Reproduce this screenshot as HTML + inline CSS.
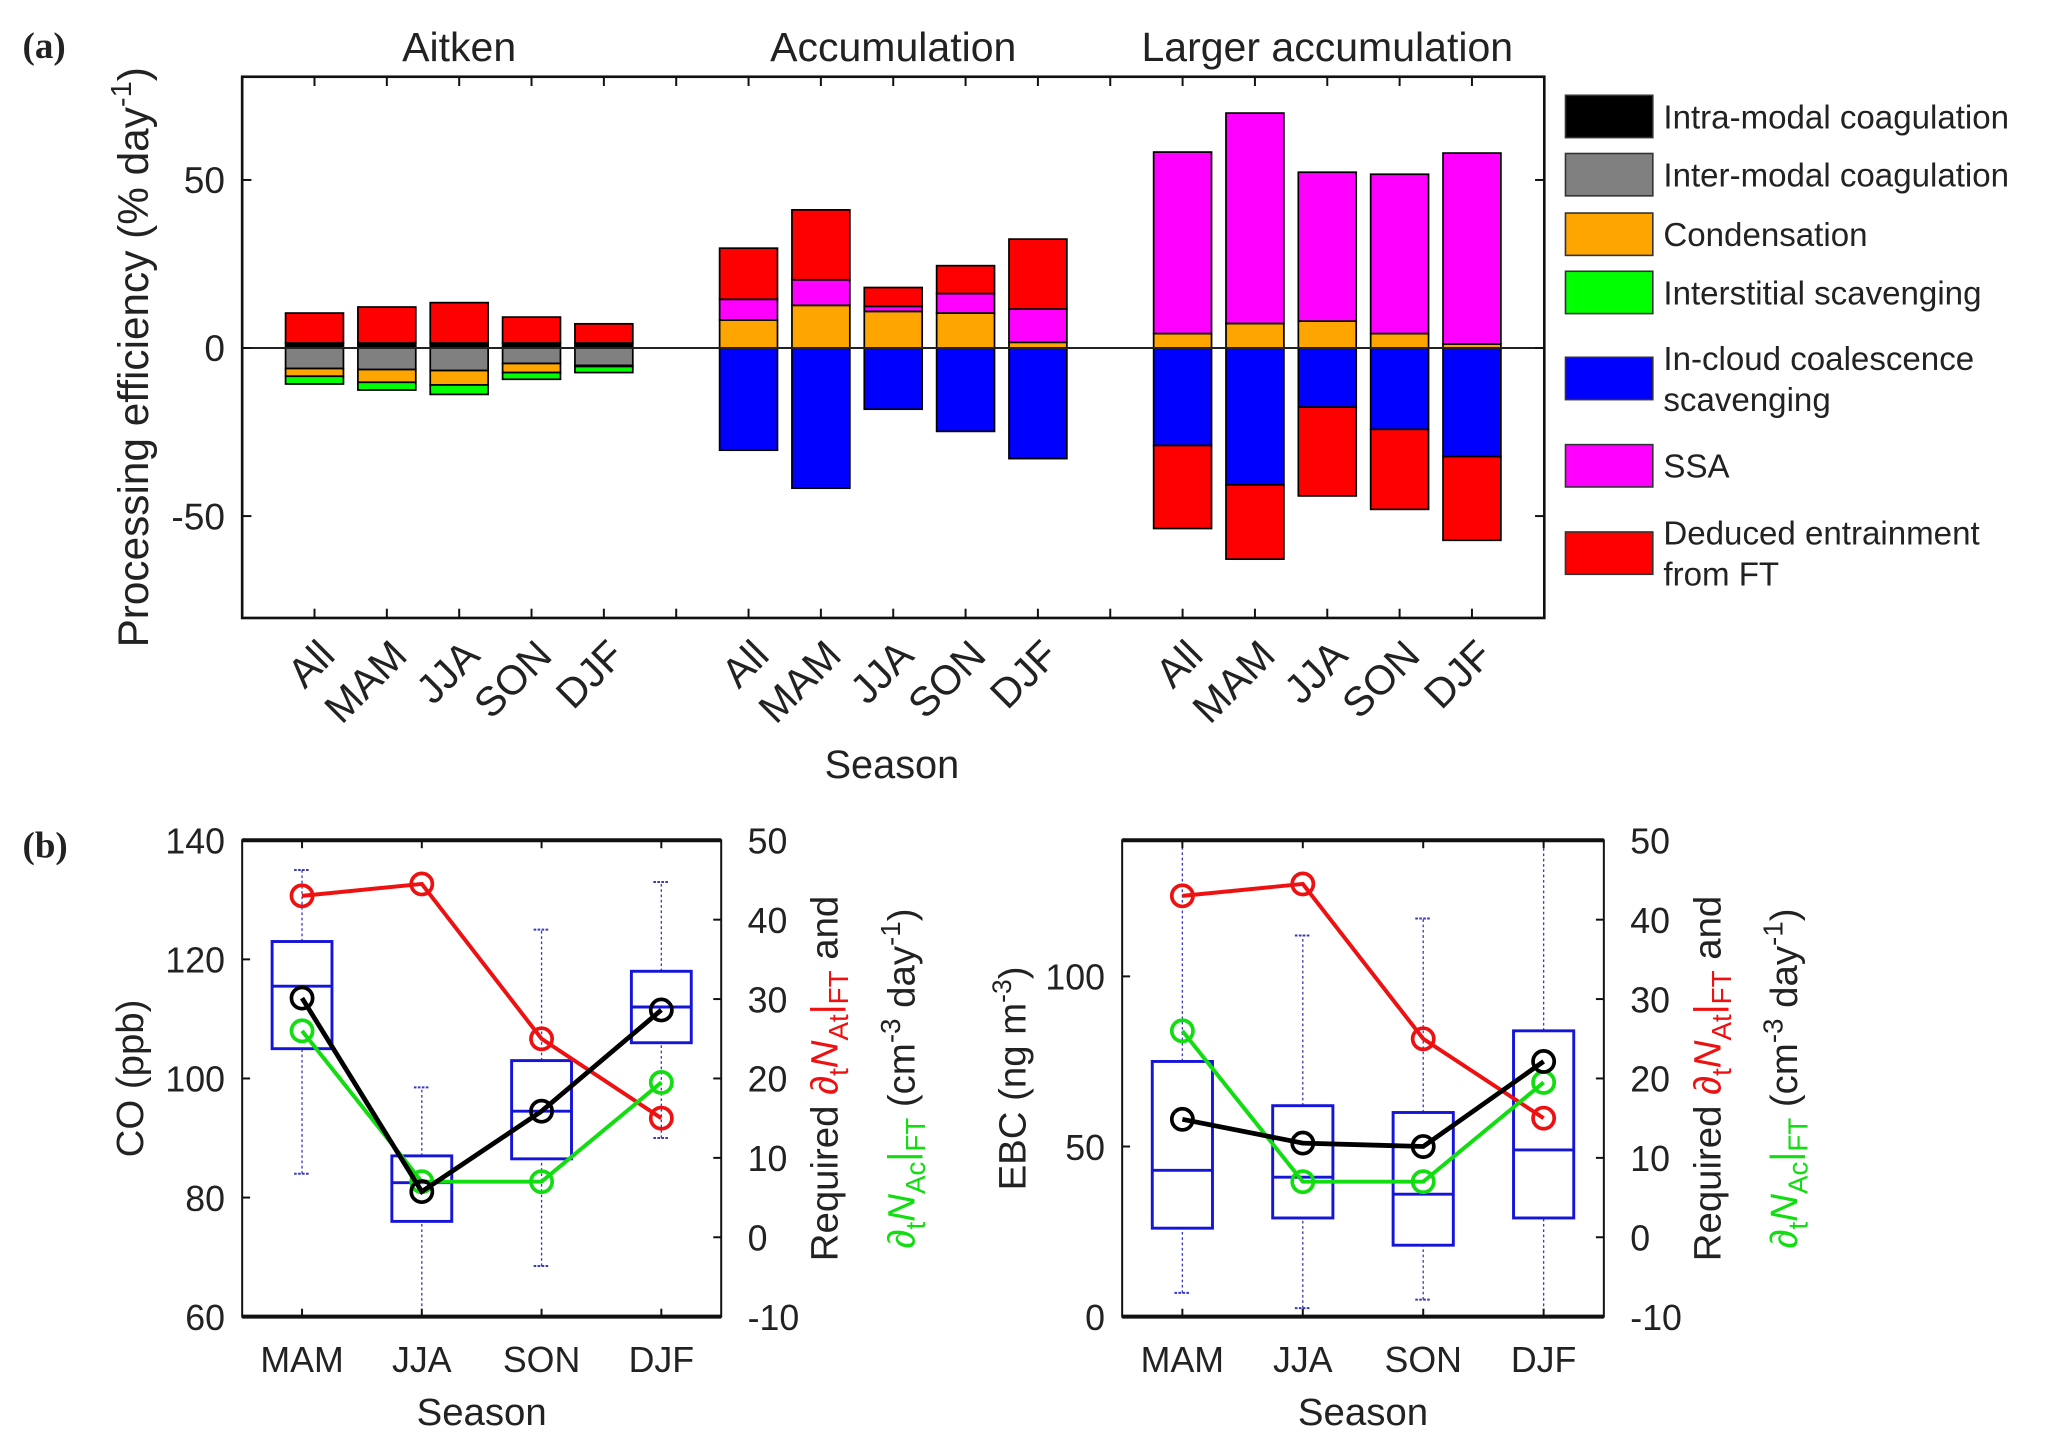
<!DOCTYPE html>
<html><head><meta charset="utf-8"><style>
html,body{margin:0;padding:0;background:#fff;}
svg{display:block;font-family:"Liberation Sans",sans-serif;}
</style></head><body>
<svg id="fig" width="2067" height="1447" viewBox="0 0 1562 1093.5" preserveAspectRatio="none"></svg>
<script>
// ---------- Panel (a) data ----------
const catLabels = ["All","MAM","JJA","SON","DJF","All","MAM","JJA","SON","DJF","All","MAM","JJA","SON","DJF"];
const catPos = [1,2,3,4,5,7,8,9,10,11,13,14,15,16,17];
const compNames = ["Intra-modal coagulation","Inter-modal coagulation","Condensation","Interstitial scavenging","In-cloud coalescence scavenging","SSA","Deduced entrainment from FT"];
const compColors = ["#000000","#808080","#FFA500","#00FF00","#0000FF","#FF00FF","#FF0000"];
const intraVals = [1.5,1.5,1.5,1.5,1.5, 0,0,0,0,0, 0,0,0,0,0];
const interVals = [-6.1,-6.4,-6.7,-4.6,-5.2, 0,0,0,0,0, 0,0,0,0,0];
const condVals = [-2.3,-3.8,-4.3,-2.7,-0.3, 8.3,12.7,10.9,10.4,1.7, 4.3,7.3,8,4.3,1.2];
const scavVals = [-2.3,-2.3,-2.8,-2,-1.8, 0,0,0,0,0, 0,0,0,0,0];
const cloudVals = [0,0,0,0,0, -30.4,-41.7,-18.2,-24.8,-32.9, -29,-40.7,-17.6,-24.2,-32.3];
const ssaVals = [0,0,0,0,0, 6.2,7.6,1.5,5.8,9.9, 54,62.6,44.3,47.4,56.8];
const entrVals = [8.9,10.7,12,7.7,5.7, 15.2,20.8,5.6,8.3,20.8, -24.7,-22.1,-26.4,-23.8,-24.9];
const aYTicks = [-50,0,50];
const groupTitles = ["Aitken","Accumulation","Larger accumulation"];
const groupCenters = [3,9,15];

// ---------- Panel (b) data ----------
const seasons = ["MAM","JJA","SON","DJF"];
const coBoxLow = [84,60,68.5,90], coQ1=[105,76,86.5,106], coMed=[115.5,82.5,94.5,112], coQ3=[123,87,103,118], coBoxHigh=[135,98.5,125,133];
const coMean = [113.5,81,94.5,111.5];
const ebcBoxLow = [7,2.5,5,0], ebcQ1=[26,29,21,29], ebcMed=[43,41,36,49], ebcQ3=[75,62,60,84], ebcBoxHigh=[140,112,117,140];
const ebcMean = [58,51,50,75];
const reqAt = [43,44.5,25,15];
const reqAc = [26,7,7,19.5];
const coTicks=[60,80,100,120,140], ebcTicks=[0,50,100], rTicks=[-10,0,10,20,30,40,50];

const NS="http://www.w3.org/2000/svg";
const svg=document.getElementById('fig');
function mk(tag,attrs,parent){const e=document.createElementNS(NS,tag);for(const k in attrs)e.setAttribute(k,attrs[k]);(parent||svg).appendChild(e);return e;}

// ---------- Panel (a) ----------
const aL=183,aR=1167,aT=58,aB=467;
const ax=v=>aL+(v/18)*(aR-aL);
const ay=v=>263-v*(127/50);
const gA=mk('g',{});


const comps=[intraVals,interVals,condVals,scavVals,cloudVals,ssaVals,entrVals];
const bw=0.8;
for(let i=0;i<catPos.length;i++){
  let pos=0,neg=0;
  for(let c=0;c<comps.length;c++){
    const v=comps[c][i]; if(!v) continue;
    let y0,y1;
    if(v>0){y0=pos;y1=pos+v;pos=y1;} else {y0=neg;y1=neg+v;neg=y1;}
    const r=mk('rect',{x:ax(catPos[i]-bw/2),y:Math.min(ay(y0),ay(y1)),width:ax(bw)-ax(0),height:Math.abs(ay(y1)-ay(y0)),fill:compColors[c],stroke:'#000','stroke-width':1.3},gA);
    
    
  }
}
mk('line',{x1:aL,x2:aR,y1:ay(0),y2:ay(0),stroke:'#222','stroke-width':1.5},gA);
const frA=mk('rect',{x:aL,y:aT,width:aR-aL,height:aB-aT,fill:'none',stroke:'#111','stroke-width':2},gA);


for(let p=1;p<=17;p++){mk('line',{x1:ax(p),x2:ax(p),y1:aB,y2:aB-7,stroke:'#111','stroke-width':1.5},gA);mk('line',{x1:ax(p),x2:ax(p),y1:aT,y2:aT+7,stroke:'#111','stroke-width':1.5},gA);}
aYTicks.forEach(t=>{mk('line',{x1:aL,x2:aL+7,y1:ay(t),y2:ay(t),stroke:'#111','stroke-width':1.5},gA);mk('line',{x1:aR,x2:aR-7,y1:ay(t),y2:ay(t),stroke:'#111','stroke-width':1.5},gA);
  const tx=mk('text',{x:170,y:ay(t)+10,'text-anchor':'end','font-size':28,fill:'#222'},gA);tx.textContent=t;
  
  });
catLabels.forEach((l,i)=>{const X=ax(catPos[i])+17,Y=497;const t=mk('text',{x:X,y:Y,'text-anchor':'end','font-size':31,fill:'#222',transform:`rotate(-45 ${X} ${Y})`},gA);t.textContent=l;
  
  });
groupTitles.forEach((g,i)=>{const t=mk('text',{x:ax(groupCenters[i]),y:46,'text-anchor':'middle','font-size':31,fill:'#222'},gA);t.textContent=g;
  
  });
let t=mk('text',{x:674,y:588,'text-anchor':'middle','font-size':30,fill:'#222'},gA);t.textContent='Season';


t=mk('text',{x:0,y:0,'text-anchor':'middle','font-size':32,fill:'#222',transform:'translate(112 270) rotate(-90)'},gA);
t.innerHTML='Processing efficiency (%  day<tspan dy="-13" font-size="22">-1</tspan><tspan dy="13">)</tspan>';


t=mk('text',{x:17,y:44,'font-size':28,'font-weight':'bold','font-family':'Liberation Serif, serif',fill:'#222'});t.textContent='(a)';


// legend
const legY=[88,132,177,221,286,352,418];
const legLines=[["Intra-modal coagulation"],["Inter-modal coagulation"],["Condensation"],["Interstitial scavenging"],["In-cloud coalescence","scavenging"],["SSA"],["Deduced entrainment","from FT"]];
legY.forEach((y,i)=>{const g=mk('g',{});
  
  
  mk('rect',{x:1183,y:y-16,width:66,height:32,fill:compColors[i],stroke:'#333','stroke-width':1.2},g);
  const ls=legLines[i];
  ls.forEach((s,j)=>{const tt=mk('text',{x:1257,y:y+9+(j-(ls.length-1)/2)*31,'font-size':25,fill:'#222'},g);tt.textContent=s;});
});

// ---------- Panel (b) ----------
function boxPanel(L,R,T,B,ylo,yhi,low,q1,med,q3,high,mean,lticks,lname){
  const g=mk('g',{});
  
  
  const bx=v=>L+(v-0.5)/4*(R-L);
  const by=v=>B-(v-ylo)/(yhi-ylo)*(B-T);
  const ry=v=>B-(v+10)/60*(B-T);
  for(let i=0;i<4;i++){
    const x=bx(i+1),hw=(R-L)/4*0.25;
    mk('line',{x1:x,x2:x,y1:by(low[i]),y2:by(q1[i]),stroke:'#3a3ac0','stroke-width':1,'stroke-dasharray':'2 2'},g);
    mk('line',{x1:x,x2:x,y1:by(q3[i]),y2:by(Math.min(high[i],yhi)),stroke:'#3a3ac0','stroke-width':1,'stroke-dasharray':'2 2'},g);
    mk('line',{x1:x-6,x2:x+6,y1:by(low[i]),y2:by(low[i]),stroke:'#3a3ac0','stroke-width':1.5,'stroke-dasharray':'2 1'},g);
    if(high[i]<yhi) mk('line',{x1:x-6,x2:x+6,y1:by(high[i]),y2:by(high[i]),stroke:'#3a3ac0','stroke-width':1.5,'stroke-dasharray':'2 1'},g);
    const r=mk('rect',{x:x-hw,y:by(q3[i]),width:2*hw,height:by(q1[i])-by(q3[i]),fill:'none',stroke:'#1515d8','stroke-width':2.2},g);
    
    
    mk('line',{x1:x-hw,x2:x+hw,y1:by(med[i]),y2:by(med[i]),stroke:'#1515d8','stroke-width':2.2},g);
  }
  function series(vals,f,col,name,w){
    const pl=mk('polyline',{points:vals.map((v,i)=>bx(i+1)+','+f(v)).join(' '),fill:'none',stroke:col,'stroke-width':w},g);
    
    
    vals.forEach((v,i)=>{const c=mk('circle',{cx:bx(i+1),cy:f(v),r:8,fill:'none',stroke:col,'stroke-width':2.8},g);
      
      });
  }
  series(reqAt,ry,'#EE1111','required-at-line',3);
  series(reqAc,ry,'#11DD11','required-ac-line',3);
  series(mean,by,'#000','mean-line',3.6);
  mk('rect',{x:L,y:T,width:R-L,height:B-T,fill:'none',stroke:'#111','stroke-width':1.5},g);
  mk('line',{x1:L,x2:R,y1:T,y2:T,stroke:'#111','stroke-width':3},g);
  mk('line',{x1:L,x2:R,y1:B,y2:B,stroke:'#111','stroke-width':3},g);
  for(let i=1;i<=4;i++){mk('line',{x1:bx(i),x2:bx(i),y1:B,y2:B-6,stroke:'#111','stroke-width':1.5},g);mk('line',{x1:bx(i),x2:bx(i),y1:T,y2:T+6,stroke:'#111','stroke-width':1.5},g);
    const tt=mk('text',{x:bx(i),y:1037,'text-anchor':'middle','font-size':27,fill:'#222'},g);tt.textContent=seasons[i-1];
    
    }
  lticks.forEach(v=>{mk('line',{x1:L,x2:L+6,y1:by(v),y2:by(v),stroke:'#111','stroke-width':1.5},g);
    const tt=mk('text',{x:L-13,y:by(v)+10,'text-anchor':'end','font-size':27,fill:'#222'},g);tt.textContent=v;
    
    });
  rTicks.forEach(v=>{mk('line',{x1:R,x2:R-6,y1:ry(v),y2:ry(v),stroke:'#111','stroke-width':1.5},g);
    const tt=mk('text',{x:R+20,y:ry(v)+10,'font-size':27,fill:'#222'},g);tt.textContent=v;
    
    });
  const st=mk('text',{x:(L+R)/2,y:1077,'text-anchor':'middle','font-size':29,fill:'#222'},g);st.textContent='Season';
  
  
  const r1=mk('text',{x:0,y:0,'text-anchor':'middle','font-size':29,fill:'#222',transform:`translate(${R+88} 815) rotate(-90)`},g);
  r1.innerHTML='Required <tspan fill="#EE1111">∂<tspan dy="8" font-size="21">t</tspan><tspan dy="-8" font-style="italic">N</tspan><tspan dy="8" font-size="21">At</tspan><tspan dy="-8">|</tspan><tspan dy="8" font-size="21">FT</tspan></tspan><tspan dy="-8"> and</tspan>';
  
  
  const r2=mk('text',{x:0,y:0,'text-anchor':'middle','font-size':29,fill:'#222',transform:`translate(${R+146} 815) rotate(-90)`},g);
  r2.innerHTML='<tspan fill="#11DD11">∂<tspan dy="8" font-size="21">t</tspan><tspan dy="-8" font-style="italic">N</tspan><tspan dy="8" font-size="21">Ac</tspan><tspan dy="-8">|</tspan><tspan dy="8" font-size="21">FT</tspan></tspan><tspan dy="-8"> (cm</tspan><tspan dy="-11" font-size="21">-3</tspan><tspan dy="11"> day</tspan><tspan dy="-11" font-size="21">-1</tspan><tspan dy="11">)</tspan>';
  
  
  return g;
}
boxPanel(183,545,635,995,60,140,coBoxLow,coQ1,coMed,coQ3,coBoxHigh,coMean,coTicks,'panel-b-co');
boxPanel(848,1212,635,995,0,140,ebcBoxLow,ebcQ1,ebcMed,ebcQ3,ebcBoxHigh,ebcMean,ebcTicks,'panel-b-ebc');
t=mk('text',{x:0,y:0,'text-anchor':'middle','font-size':29,fill:'#222',transform:'translate(108 815) rotate(-90)'});t.textContent='CO (ppb)';


t=mk('text',{x:0,y:0,'text-anchor':'middle','font-size':29,fill:'#222',transform:'translate(775 815) rotate(-90)'});
t.innerHTML='EBC (ng m<tspan dy="-11" font-size="20">-3</tspan><tspan dy="11">)</tspan>';


t=mk('text',{x:17,y:648,'font-size':28,'font-weight':'bold','font-family':'Liberation Serif, serif',fill:'#222'});t.textContent='(b)';


</script>
</body></html>
